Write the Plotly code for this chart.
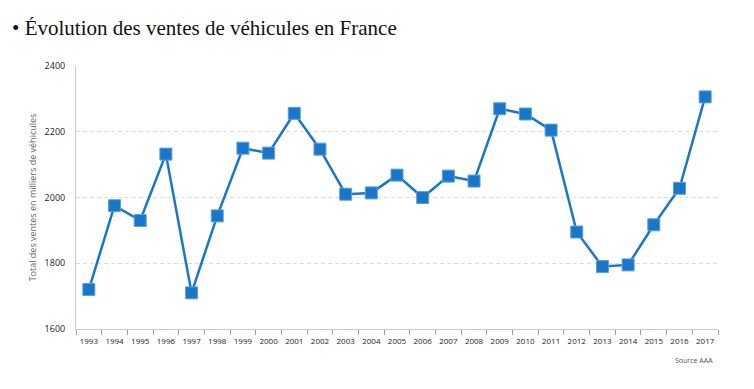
import plotly.graph_objects as go

years = [str(y) for y in range(1993, 2018)]
ventes = [1720, 1975, 1930, 2132, 1710, 1944, 2150, 2135, 2256, 2147, 2010, 2014,
          2068, 2000, 2065, 2050, 2270, 2254, 2205, 1895, 1790, 1795, 1917, 2028, 2306]

title_text = "• Évolution des ventes de véhicules en France"
y_title = "Total des ventes en milliers de véhicules"
source_text = "Source AAA"

fig = go.Figure()
fig.add_trace(go.Scatter(
    x=years, y=ventes, mode="lines+markers",
    line=dict(color="#1a76c8", width=2.5),
    marker=dict(symbol="square", size=12, color="#1a76c8",
                line=dict(color="#5aa0dd", width=1)),
    showlegend=False, hoverinfo="x+y"))

fig.update_layout(
    width=754, height=389,
    margin=dict(l=76, r=36, t=66, b=60, autoexpand=False),
    paper_bgcolor="white", plot_bgcolor="white",
    font=dict(family="Open Sans, sans-serif", color="#333333"),
    title=dict(text=title_text, x=0.016, xanchor="left", y=0.928, yanchor="middle",
               font=dict(family="Liberation Serif, serif", size=21, color="#111111")),
    xaxis=dict(type="category", showgrid=False, showline=True, linecolor="#c8c8c8",
               linewidth=1, ticks="outside", tickson="boundaries", ticklen=5,
               tickcolor="#a0a0a0", tickfont=dict(size=8, color="#222222"),
               ticklabelstandoff=4,
               tickangle=0, automargin=False, range=[-0.5, 24.5]),
    yaxis=dict(range=[1600, 2400], dtick=200, showgrid=True, gridcolor="#dcdcdc",
               griddash="4px,3px", gridwidth=1, showline=True, linecolor="#c8c8c8",
               linewidth=1, zeroline=False, ticks="", ticklabelstandoff=8,
               tickfont=dict(size=9, color="#222222"), automargin=False,
               title=dict(text=y_title, font=dict(size=9, color="#666666"), standoff=6)),
    annotations=[dict(text=source_text, xref="paper", yref="paper", x=0.996, y=-0.095,
                      xanchor="right", yanchor="top", showarrow=False,
                      font=dict(size=7, color="#555555"))],
)

fig.write_html("out.html", config={"displayModeBar": False},
               post_script="document.body.style.margin='0';document.body.style.padding='0';")
